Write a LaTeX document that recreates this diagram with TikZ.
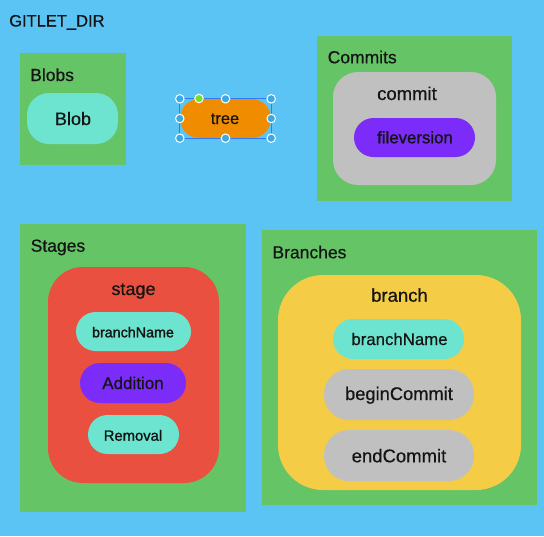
\documentclass[tikz,border=0pt]{standalone}
\usepackage{fontspec}
\setmainfont[FakeBold=0.5]{Liberation Sans}
\newfontfamily\semib[FakeBold=1.3]{Liberation Sans}
\definecolor{bgblue}{RGB}{91,196,245}
\definecolor{boxgreen}{RGB}{101,196,102}
\definecolor{teal}{RGB}{108,228,208}
\definecolor{orng}{RGB}{240,140,0}
\definecolor{gry}{RGB}{192,192,192}
\definecolor{purp}{RGB}{123,44,248}
\definecolor{redbox}{RGB}{233,80,64}
\definecolor{yel}{RGB}{245,204,70}
\definecolor{txt}{RGB}{20,20,20}
\definecolor{selblue}{RGB}{47,124,246}
\definecolor{hdl}{RGB}{58,170,230}
\definecolor{hdlg}{RGB}{120,220,40}
\tikzset{
  container/.style={rectangle, fill=boxgreen, draw=none, inner sep=0pt},
  rbox/.style={rectangle, draw=none, inner sep=0pt},
  ttl/.style={anchor=base west, inner sep=0pt, text=txt, font=\fontsize{17.5}{20}\selectfont},
  lbl/.style={anchor=base, inner sep=0pt, text=txt},
  handle/.style={circle, fill=hdl, draw=white, line width=1pt, minimum size=8.5pt, inner sep=0pt},
}
\begin{document}
\begin{tikzpicture}[x=1pt,y=-1pt]
\useasboundingbox (0,0) rectangle (544,536);
\fill[bgblue] (0,0) rectangle (544,536);
\node[ttl, font=\fontsize{16.5}{20}\selectfont] (gitdir) at (9,26.5) {GITLET\_DIR};

% Blobs
\node[container, minimum width=106pt, minimum height=112pt] (blobs) at (73,109) {};
\node[ttl] (blobsT) at (30,81) {Blobs};
\node[rbox, fill=teal, rounded corners=22pt, minimum width=91pt, minimum height=51pt] (blob) at (72.5,118.5) {};
\node[lbl, font=\fontsize{18}{20}\selectfont] (blobT) at (73,125) {Blob};

% tree
\node[rbox, fill=orng, rounded corners=19.5pt, minimum width=91pt, minimum height=39pt] (tree) at (225.5,118.5) {};
\node[lbl, font=\fontsize{16.5}{20}\selectfont] (treeT) at (225,124) {tree};
\draw[selblue, line width=0.8pt] (tree.north west) rectangle (tree.south east);
\node[handle] (h1) at (tree.north west) {};
\node[handle, fill=hdlg] (h2) at (199,98.5) {};
\node[handle] (h3) at (tree.north) {};
\node[handle] (h4) at (tree.north east) {};
\node[handle] (h5) at (tree.west) {};
\node[handle] (h6) at (tree.east) {};
\node[handle] (h7) at (tree.south west) {};
\node[handle] (h8) at (tree.south) {};
\node[handle] (h9) at (tree.south east) {};

% Commits
\node[container, minimum width=195pt, minimum height=165pt] (commits) at (414.5,118.5) {};
\node[ttl] (commitsT) at (327.5,63.3) {Commits};
\node[rbox, fill=gry, rounded corners=25pt, minimum width=163pt, minimum height=113pt] (commit) at (414.5,128.5) {};
\node[lbl, font=\fontsize{18.5}{20}\selectfont] (commitT) at (407,100) {commit};
\node[rbox, fill=purp, rounded corners=19.5pt, minimum width=121pt, minimum height=39pt] (filever) at (414.5,137.5) {};
\node[lbl, font=\semib\fontsize{16.8}{20}\selectfont] (fileverT) at (415,143.3) {fileversion};

% Stages
\node[container, minimum width=226pt, minimum height=288pt] (stages) at (133,368) {};
\node[ttl] (stagesT) at (30.5,251.7) {Stages};
\node[rbox, fill=redbox, rounded corners=35pt, minimum width=171pt, minimum height=216pt] (stage) at (133.5,375) {};
\node[lbl, font=\fontsize{18}{20}\selectfont] (stageT) at (133.5,295) {stage};
\node[rbox, fill=teal, rounded corners=19.5pt, minimum width=115pt, minimum height=39pt] (sbn) at (133.5,331.5) {};
\node[lbl, font=\semib\fontsize{14.3}{18}\selectfont] (sbnT) at (133,337.3) {branchName};
\node[rbox, fill=purp, rounded corners=20pt, minimum width=106pt, minimum height=40pt] (add) at (133,383) {};
\node[lbl, font=\fontsize{17}{20}\selectfont] (addT) at (133,389) {Addition};
\node[rbox, fill=teal, rounded corners=19.5pt, minimum width=91pt, minimum height=39pt] (rem) at (133.5,434.5) {};
\node[lbl, font=\semib\fontsize{14.8}{18}\selectfont] (remT) at (133,440.7) {Removal};

% Branches
\node[container, minimum width=275pt, minimum height=275pt] (branches) at (399.5,367.5) {};
\node[ttl] (branchesT) at (272.3,258.3) {Branches};
\node[rbox, fill=yel, rounded corners=45pt, minimum width=243pt, minimum height=215pt] (branch) at (399.5,382.5) {};
\node[lbl, font=\fontsize{18.5}{20}\selectfont] (branchT) at (399.5,301.7) {branch};
\node[rbox, fill=teal, rounded corners=20pt, minimum width=131pt, minimum height=40pt] (bbn) at (398.5,339) {};
\node[lbl, font=\fontsize{16.8}{20}\selectfont] (bbnT) at (399.5,345) {branchName};
\node[rbox, fill=gry, rounded corners=25pt, minimum width=150pt, minimum height=51pt] (begin) at (399,394.5) {};
\node[lbl, font=\fontsize{18.3}{20}\selectfont] (beginT) at (399,400) {beginCommit};
\node[rbox, fill=gry, rounded corners=25pt, minimum width=150pt, minimum height=51pt] (endc) at (399,455.5) {};
\node[lbl, font=\fontsize{18.5}{20}\selectfont] (endcT) at (399,462.3) {endCommit};
\end{tikzpicture}
\end{document}
